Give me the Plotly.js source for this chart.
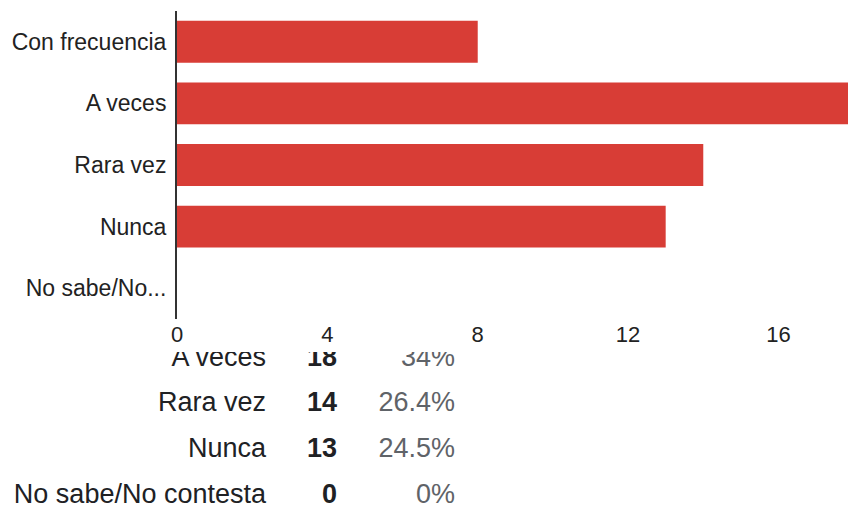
<!DOCTYPE html>
<html>
<head>
<meta charset="utf-8">
<script src="https://cdn.plot.ly/plotly-3.0.1.min.js"></script>
<style>html,body{margin:0;padding:0;background:#fff;}#chart{width:848px;height:515px;}</style>
</head>
<body>
<div id="chart"></div>
<script>
// ---- data ----
var categories = ["Con frecuencia", "A veces", "Rara vez", "Nunca", "No sabe/No contesta"];
var counts = [8, 18, 14, 13, 0];
var percents = ["15.1%", "34%", "26.4%", "24.5%", "0%"];
var xTicks = [0, 4, 8, 12, 16];

// ---- helpers ----
function shortLabel(s) { return s.length > 15 ? s.slice(0, 10) + "..." : s; }
var W = 848, H = 515;
var FONT = "Liberation Sans, Arial, sans-serif";
var rowIdx = categories.map(function (_, i) { return i - 1; }); // table rows (first row scrolled out)

var bars = {
  type: "bar",
  orientation: "h",
  x: counts,
  y: categories,
  marker: { color: "#d83d36" },
  hoverinfo: "skip",
  xaxis: "x", yaxis: "y"
};

function col(xPos, texts, color, bold) {
  return {
    type: "scatter",
    mode: "text",
    x: categories.map(function () { return xPos; }),
    y: rowIdx,
    text: texts.map(function (t) { return bold ? "<b>" + t + "</b>" : String(t); }),
    textposition: "middle left",
    textfont: { family: FONT, size: 27, color: color },
    cliponaxis: true,
    hoverinfo: "skip",
    xaxis: "x2", yaxis: "y2",
    showlegend: false
  };
}

var data = [
  bars,
  col(266, categories, "#202124", false),
  col(337, counts, "#202124", true),
  col(455, percents, "#5f6368", false)
];

var layout = {
  width: W, height: H,
  margin: { l: 0, r: 0, t: 0, b: 0 },
  paper_bgcolor: "#ffffff",
  plot_bgcolor: "rgba(0,0,0,0)",
  showlegend: false,
  bargap: 0.32,
  font: { family: FONT, color: "#222222" },
  xaxis: {
    domain: [177 / W, 1],
    range: [0, 17.85],
    tickvals: xTicks,
    showgrid: false, zeroline: false, showline: false,
    ticks: "",
    tickfont: { size: 22, color: "#222222" },
    ticklabelstandoff: 0,
    fixedrange: true
  },
  yaxis: {
    domain: [(H - 319) / H, (H - 11) / H],
    type: "category",
    categoryorder: "array",
    categoryarray: categories,
    range: [4.5, -0.5],
    tickvals: categories,
    ticktext: categories.map(shortLabel),
    showgrid: false, zeroline: false,
    showline: true, linecolor: "#333333", linewidth: 2,
    ticks: "",
    tickfont: { size: 23, color: "#222222" },
    ticklabelstandoff: 4,
    fixedrange: true
  },
  xaxis2: {
    domain: [0, 1], range: [0, W], visible: false, fixedrange: true, anchor: "y2"
  },
  yaxis2: {
    domain: [0, (H - 352) / H], range: [3.41, -0.15], visible: false, fixedrange: true, anchor: "x2"
  }
};

Plotly.newPlot("chart", data, layout, { displayModeBar: false, staticPlot: true });
</script>
</body>
</html>
